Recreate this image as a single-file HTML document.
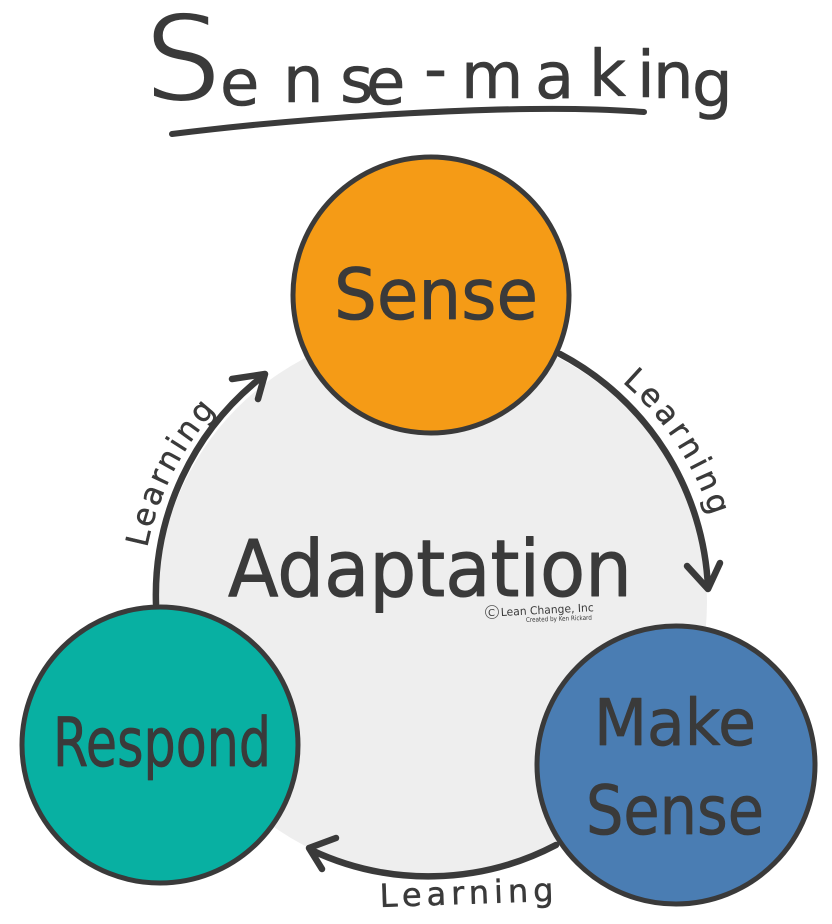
<!DOCTYPE html>
<html>
<head>
<meta charset="utf-8">
<style>
html,body{margin:0;padding:0;background:#fff;width:832px;height:924px;overflow:hidden}
svg{display:block}
text{font-family:"DejaVu Sans","Liberation Sans",sans-serif;fill:#3a3a3a;stroke:#3a3a3a;stroke-linejoin:round}
</style>
</head>
<body>
<svg width="832" height="924" viewBox="0 0 832 924" xmlns="http://www.w3.org/2000/svg">
<defs>
<path id="arcL" d="M147 548 A290 290 0 0 1 217 409" fill="none"/>
<path id="arcR" d="M622 382 A292 292 0 0 1 712 520" fill="none"/>
</defs>
<circle cx="432" cy="602" r="275" fill="#eeeeee"/>

<!-- Title -->
<text x="144" y="101" font-size="120" textLength="78" lengthAdjust="spacingAndGlyphs" style="fill:#3a3a3a;stroke:#fff;stroke-width:3">S</text>
<text font-size="64" stroke-width="0.6"
 x="220 283 340 366 424 461 535 589 637 653 692"
 y="105 102 102 104 91 98 98 96 97 98 106">ense-making</text>
<path d="M172 134 C300 118 520 102 644 112" fill="none" stroke="#3a3a3a" stroke-width="6" stroke-linecap="round"/>

<!-- Arrows -->
<g fill="none" stroke="#3a3a3a" stroke-width="6.5" stroke-linecap="round" stroke-linejoin="round">
<path d="M156 604 A278 278 0 0 1 263 376"/>
<path d="M232 379 L265 374 L258 399"/>
<path d="M560 354 A278 278 0 0 1 708 588"/>
<path d="M687 566 L708 589 L720 563"/>
<path d="M556 845 A275 275 0 0 1 311 850"/>
<path d="M322 869 L309 848 L336 838"/>
</g>

<!-- Circles -->
<circle cx="431" cy="295" r="138" fill="#f59b16" stroke="#3a3a3a" stroke-width="5"/>
<circle cx="160" cy="745" r="138" fill="#08b0a2" stroke="#3a3a3a" stroke-width="5"/>
<circle cx="676" cy="765" r="139" fill="#4a7db3" stroke="#3a3a3a" stroke-width="5"/>

<!-- Circle labels -->
<text x="334" y="319" font-size="70" stroke-width="0.8" textLength="204" lengthAdjust="spacingAndGlyphs">Sense</text>
<text x="53" y="766" font-size="68" stroke-width="0.8" textLength="218" lengthAdjust="spacingAndGlyphs">Respond</text>
<text x="594" y="745" font-size="64" stroke-width="0.8" textLength="162" lengthAdjust="spacingAndGlyphs">Make</text>
<text x="586" y="834" font-size="68" stroke-width="0.8" textLength="178" lengthAdjust="spacingAndGlyphs">Sense</text>
<text x="228" y="596" font-size="78" stroke-width="1" textLength="404" lengthAdjust="spacingAndGlyphs">Adaptation</text>

<!-- Learning labels -->
<text font-size="31" stroke-width="0.5" letter-spacing="3"><textPath href="#arcL">Learning</textPath></text>
<text font-size="31" stroke-width="0.5" letter-spacing="4"><textPath href="#arcR">Learning</textPath></text>
<text transform="translate(380,907) rotate(-2)" font-size="32" stroke-width="0.5" letter-spacing="5">Learning</text>

<!-- Credit -->
<circle cx="492" cy="612" r="6.5" fill="none" stroke="#555" stroke-width="0.8"/>
<text x="488" y="616" font-size="10" stroke-width="0">C</text>
<text transform="translate(501,616) rotate(-3)" font-size="11" stroke-width="0" textLength="93" lengthAdjust="spacingAndGlyphs">Lean Change, Inc</text>
<text transform="translate(526,622) rotate(-2)" font-size="6.5" stroke-width="0" textLength="66" lengthAdjust="spacingAndGlyphs">Created by Ken Rickard</text>
</svg>
</body>
</html>
